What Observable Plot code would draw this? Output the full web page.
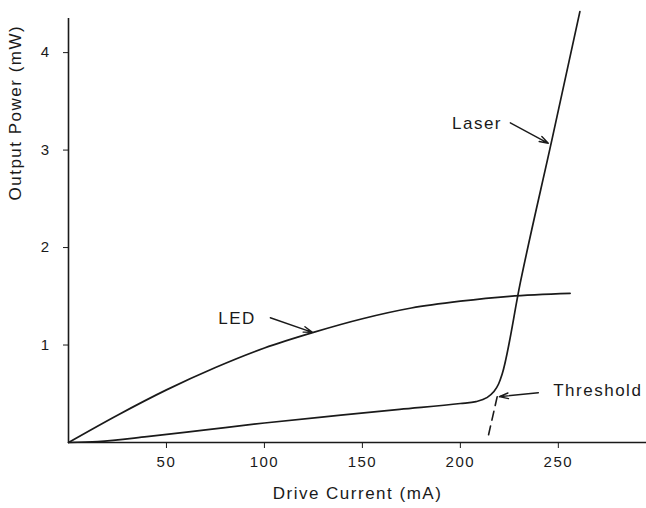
<!DOCTYPE html>
<html>
<head>
<meta charset="utf-8">
<script src="https://cdn.jsdelivr.net/npm/d3@7"></script>
<script src="https://cdn.jsdelivr.net/npm/@observablehq/plot@0.6"></script>
<style>
  html, body { margin: 0; padding: 0; background: #fff; }
  #chart svg text { letter-spacing: 1.5px; }
</style>
</head>
<body>
<div id="chart"></div>
<script>
// LED output curve (mA, mW)
const ledCurrent = [0, 25, 50, 75, 100, 125, 150, 175, 200, 225, 256];
const ledPower   = [0, 0.28, 0.54, 0.77, 0.97, 1.13, 1.27, 1.38, 1.45, 1.5, 1.53];

// Laser output curve (mA, mW)
const laserCurrent = [0, 15, 40, 70, 100, 139, 169, 200, 208, 213.5, 217, 219.5, 221.3, 230.6, 247, 261];
const laserPower   = [0, 0.01, 0.06, 0.13, 0.2, 0.28, 0.34, 0.4, 0.42, 0.46, 0.52, 0.6, 0.7, 1.64, 3.13, 4.42];

// Dashed threshold extension
const thresholdCurrent = [218.8, 214.4];
const thresholdPower   = [0.47, 0.08];

// Tick values
const xTicks = [50, 100, 150, 200, 250];
const yTicks = [1, 2, 3, 4];

// Curve labels (centered) and the "Threshold" label (left-aligned)
const curveLabelText    = ["LED", "Laser"];
const curveLabelCurrent = [86, 208.5];
const curveLabelPower   = [1.27, 3.27];
const thresholdLabelText    = ["Threshold"];
const thresholdLabelCurrent = [247.4];
const thresholdLabelPower   = [0.53];

// Pointer arrows
const arrowFromCurrent = [103, 225.5, 239.8];
const arrowFromPower   = [1.28, 3.28, 0.51];
const arrowToCurrent   = [124.5, 244.9, 219.9];
const arrowToPower     = [1.13, 3.07, 0.47];

const led = ledCurrent.map((c, i) => ({c, p: ledPower[i]}));
const laser = laserCurrent.map((c, i) => ({c, p: laserPower[i]}));
const threshold = thresholdCurrent.map((c, i) => ({c, p: thresholdPower[i]}));
const curveLabels = curveLabelText.map((t, i) => ({t, c: curveLabelCurrent[i], p: curveLabelPower[i]}));
const thresholdLabels = thresholdLabelText.map((t, i) => ({t, c: thresholdLabelCurrent[i], p: thresholdLabelPower[i]}));
const arrows = arrowFromCurrent.map((c, i) => ({
  x1: c, y1: arrowFromPower[i], x2: arrowToCurrent[i], y2: arrowToPower[i]
}));

const ink = "#1a1a1a";
const chart = Plot.plot({
  width: 646,
  height: 508,
  marginLeft: 68,
  marginRight: 0,
  marginTop: 18,
  marginBottom: 66,
  style: {fontFamily: "'Liberation Sans', Arial, sans-serif", fontSize: "15px", color: ink, background: "#fff"},
  x: {domain: [0, 295]},
  y: {domain: [0, 4.35]},
  marks: [
    Plot.ruleY([0], {stroke: ink, strokeWidth: 1.6}),
    Plot.ruleX([0], {stroke: ink, strokeWidth: 1.6}),
    Plot.axisX(xTicks, {tickSize: 6, tickPadding: 8, fontSize: 15, label: null, stroke: ink, fill: ink, tickFormat: d => String(d)}),
    Plot.axisY(yTicks, {tickSize: 5, tickPadding: 13, fontSize: 15, label: null, stroke: ink, fill: ink, tickFormat: d => String(d)}),
    Plot.line(led, {x: "c", y: "p", curve: "monotone-x", stroke: ink, strokeWidth: 1.7}),
    Plot.line(laser, {x: "c", y: "p", curve: "monotone-x", stroke: ink, strokeWidth: 1.7}),
    Plot.line(threshold, {x: "c", y: "p", stroke: ink, strokeWidth: 1.6, strokeDasharray: "9,6"}),
    Plot.arrow(arrows, {x1: "x1", y1: "y1", x2: "x2", y2: "y2", stroke: ink, strokeWidth: 1.4, headLength: 10, headAngle: 35}),
    Plot.text(curveLabels, {x: "c", y: "p", text: "t", textAnchor: "middle", fontSize: 17, fill: ink}),
    Plot.text(thresholdLabels, {x: "c", y: "p", text: "t", textAnchor: "start", fontSize: 17, fill: ink}),
    Plot.text(["Drive Current (mA)"], {frameAnchor: "bottom", dy: 56, fontSize: 17, fill: ink}),
    Plot.text(["Output Power (mW)"], {frameAnchor: "left", dx: -53, dy: -30, rotate: -90, fontSize: 17, fill: ink})
  ]
});
document.getElementById("chart").appendChild(chart);
</script>
</body>
</html>
